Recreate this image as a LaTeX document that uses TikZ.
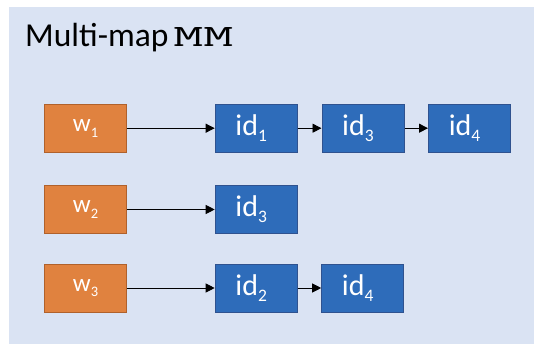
\documentclass[tikz,border=0pt]{standalone}
\usepackage{fontspec}
\setmainfont{Carlito}
\usetikzlibrary{arrows.meta}
\definecolor{bgblue}{HTML}{DAE3F3}
\definecolor{wfill}{HTML}{E0823F}
\definecolor{wdraw}{HTML}{B0612B}
\definecolor{idfill}{HTML}{2E6CBA}
\definecolor{iddraw}{HTML}{2F528F}
\tikzset{
  keybox/.style={draw=wdraw, fill=wfill, line width=1pt, minimum width=82pt, minimum height=48pt, inner sep=0pt, text=white, font=\fontsize{25}{28}\selectfont},
  idbox/.style={draw=iddraw, fill=idfill, line width=1pt, minimum width=82pt, minimum height=48pt, inner sep=0pt, text=white, font=\fontsize{30}{32}\selectfont},
  link/.style={draw=black, line width=0.9pt, -{Triangle[length=9pt,width=9pt]}}
}
\newcommand{\ksub}[1]{\raisebox{-5.7pt}{\fontsize{14.5}{16}\selectfont #1}}
\newcommand{\isub}[1]{\raisebox{-6pt}{\fontsize{17.5}{20}\selectfont #1}\kern10pt}
\begin{document}
\begin{tikzpicture}[x=1pt,y=-1pt]
  \useasboundingbox (0,0) rectangle (534,344);
  \fill[white] (0,0) rectangle (534,344);
  \fill[bgblue] (9,7) rectangle (534,344);
  \node[anchor=base west, inner sep=0pt, font=\fontsize{33.5}{38}\selectfont] (title) at (25,47) {Multi-map\kern5pt\resizebox{60pt}{19pt}{\ttfamily MM}};
  % row 1
  \node[keybox] (w1) at (85.5,128.2) {w\ksub{1}};
  \node[idbox] (a1) at (256.2,128.2) {id\isub{1}};
  \node[idbox] (a3) at (363,128.2) {id\isub{3}};
  \node[idbox] (a4) at (469.5,128.2) {id\isub{4}};
  % row 2
  \node[keybox] (w2) at (85.5,209.5) {w\ksub{2}};
  \node[idbox] (b3) at (256.2,209.5) {id\isub{3}};
  % row 3
  \node[keybox] (w3) at (85.5,288) {w\ksub{3}};
  \node[idbox] (c2) at (256.2,288) {id\isub{2}};
  \node[idbox] (c4) at (362.7,288) {id\isub{4}};
  \draw[link] (w1) -- (a1);
  \draw[link] (a1) -- (a3);
  \draw[link] (a3) -- (a4);
  \draw[link] (w2) -- (b3);
  \draw[link] (w3) -- (c2);
  \draw[link] (c2) -- (c4);
\end{tikzpicture}
\end{document}
